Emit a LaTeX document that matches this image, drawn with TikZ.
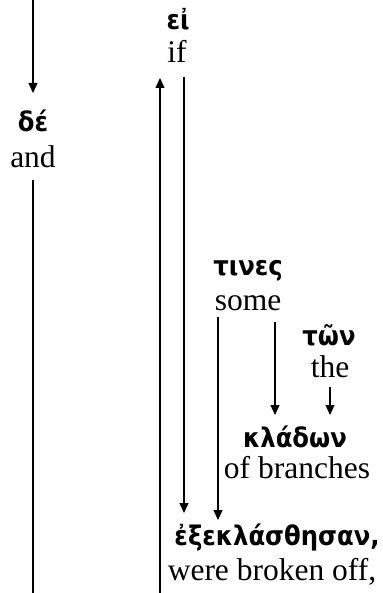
\documentclass[tikz,border=0pt]{standalone}
\usepackage{fontspec}
\setmainfont{Liberation Serif}
\newfontfamily\gkfont{DejaVu Sans}[FakeStretch=0.9]
\usetikzlibrary{arrows.meta,calc}
\tikzset{
  gk/.style={inner sep=0pt,anchor=base,font=\gkfont\bfseries\fontsize{27}{27}\selectfont},
  en/.style={inner sep=0pt,anchor=base,font=\fontsize{31.5}{31.5}\selectfont},
  conn/.style={line width=1.3pt},
  arr/.style={conn,-{Triangle[width=9pt,length=10pt]}}
}
\begin{document}
\begin{tikzpicture}[x=1pt,y=-1pt]
\useasboundingbox (0,0) rectangle (382,593);
\node[gk] (de) at (33,132) {δέ};
\node[en] (and) at (33,168) {and};
\node[gk] (ei) at (178,30) {εἰ};
\node[en] (if) at (177,63) {if};
\node[gk] (tines) at (248,275) {τινες};
\node[en] (some) at (248,310) {some};
\node[gk] (ton) at (329,345) {τῶν};
\node[en] (the) at (330,377) {the};
\node[gk] (kladon) at (295,447) {κλάδων};
\node[en] (ofbr) at (297,478) {of branches};
\node[gk] (exek) at (277,545) {ἐξεκλάσθησαν,};
\node[en] (were) at (272,580) {were broken off,};
\coordinate (t0) at (33,0);
\coordinate (b0) at (33,593);
\coordinate (b1) at (160,593);
\draw[arr] (t0) -- ($(de.base)+(0,-39)$);
\draw[conn] ($(and.base)+(0,12)$) -- (b0);
\draw[arr] (b1) -- ($(if.base)+(-17,15)$);
\draw[arr] ($(if.base)+(7,14)$) -- ($(exek.base)+(-93,-32)$);
\draw[arr] ($(some.base)+(-30,7)$) -- ($(exek.base)+(-59,-25)$);
\draw[arr] ($(some.base)+(27,12)$) -- ($(kladon.base)+(-20,-32)$);
\draw[arr] ($(the.base)+(0,10)$) -- ($(kladon.base)+(35,-32)$);
\end{tikzpicture}
\end{document}
